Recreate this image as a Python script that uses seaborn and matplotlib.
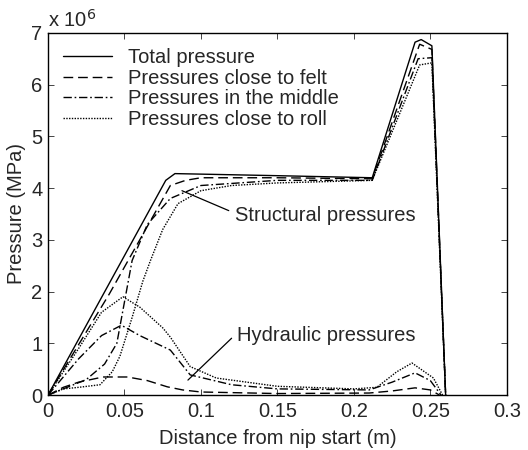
import matplotlib
matplotlib.use("Agg")
import matplotlib.pyplot as plt
import seaborn as sns
import numpy as np

# ---- data (values in units of 1e6 Pa) ----
x_total = [0, 0.077, 0.083, 0.1, 0.15, 0.212, 0.24, 0.244, 0.251, 0.26]
y_total = [0, 4.15, 4.28, 4.27, 4.24, 4.2, 6.82, 6.87, 6.75, 0]

x_felt_s = [0, 0.04, 0.08, 0.09, 0.1, 0.15, 0.212, 0.243, 0.251, 0.26]
y_felt_s = [0, 1.95, 4.05, 4.15, 4.2, 4.2, 4.18, 6.78, 6.68, 0]

x_mid_s = [0, 0.01, 0.025, 0.037, 0.045, 0.05, 0.055, 0.065, 0.08, 0.1, 0.15, 0.212, 0.242, 0.251, 0.26]
y_mid_s = [0, 0.12, 0.3, 0.6, 1.0, 1.8, 2.6, 3.3, 3.8, 4.05, 4.15, 4.15, 6.5, 6.52, 0]

x_roll_s = [0, 0.01, 0.02, 0.034, 0.042, 0.047, 0.055, 0.062, 0.067, 0.075, 0.085, 0.1, 0.12, 0.15, 0.212, 0.243, 0.251, 0.26]
y_roll_s = [0, 0.12, 0.15, 0.2, 0.45, 0.75, 1.5, 2.2, 2.6, 3.2, 3.7, 3.95, 4.05, 4.1, 4.15, 6.38, 6.42, 0]

x_felt_h = [0, 0.01, 0.02, 0.036, 0.052, 0.065, 0.078, 0.088, 0.1, 0.15, 0.21, 0.225, 0.24, 0.25, 0.256]
y_felt_h = [0, 0.15, 0.25, 0.35, 0.35, 0.28, 0.16, 0.1, 0.06, 0.03, 0.04, 0.08, 0.14, 0.1, 0]

x_mid_h = [0, 0.02, 0.035, 0.048, 0.06, 0.08, 0.093, 0.12, 0.15, 0.21, 0.225, 0.24, 0.25, 0.257]
y_mid_h = [0, 0.7, 1.15, 1.35, 1.15, 0.87, 0.39, 0.2, 0.12, 0.1, 0.25, 0.43, 0.28, 0]

x_roll_h = [0, 0.02, 0.035, 0.049, 0.06, 0.075, 0.08, 0.093, 0.11, 0.15, 0.2, 0.215, 0.228, 0.238, 0.252, 0.258]
y_roll_h = [0, 0.9, 1.6, 1.9, 1.7, 1.3, 1.12, 0.55, 0.33, 0.17, 0.12, 0.15, 0.45, 0.62, 0.33, 0]

legend_labels = ["Total pressure", "Pressures close to felt",
                 "Pressures in the middle", "Pressures close to roll"]
x_ticks = [0, 0.05, 0.1, 0.15, 0.2, 0.25, 0.3]
x_tick_labels = ["0", "0.05", "0.1", "0.15", "0.2", "0.25", "0.3"]
y_ticks = [0, 1, 2, 3, 4, 5, 6, 7]

sns.set_style("ticks")
plt.rcParams['font.family'] = ['Liberation Sans', 'DejaVu Sans']

FS = 14.5
fig = plt.figure(figsize=(5.28, 4.5), dpi=100)
ax = fig.add_axes([0.0909, 0.122, 0.869, 0.805])

lw = 1.0
felt_dash = (0, (7, 3.5))
mid_dash = (0, (6, 2, 1.2, 2))
roll_dash = (0, (1, 1))

def draw(x, y, ls, label=None):
    sns.lineplot(x=x, y=y, ax=ax, color="black", linewidth=lw, sort=False,
                 estimator=None, label=label, legend=False)
    ax.lines[-1].set_linestyle(ls)

draw(x_total, y_total, "-")
draw(x_felt_s, y_felt_s, felt_dash)
draw(x_mid_s, y_mid_s, mid_dash)
draw(x_roll_s, y_roll_s, roll_dash)
draw(x_felt_h, y_felt_h, felt_dash)
draw(x_mid_h, y_mid_h, mid_dash)
draw(x_roll_h, y_roll_h, roll_dash)

handles = ax.lines[:4]
leg = ax.legend(handles, legend_labels, loc="upper left", frameon=False,
                fontsize=FS, handlelength=2.45, handletextpad=0.75,
                labelspacing=0.08, borderaxespad=0.0, borderpad=0.0,
                bbox_to_anchor=(0.033, 0.958))

ax.set_xlim(0, 0.3)
ax.set_ylim(0, 7)
ax.set_xticks(x_ticks)
ax.set_xticklabels(x_tick_labels)
ax.set_yticks(y_ticks)
ax.tick_params(direction="in", top=True, right=True, labelsize=FS,
               length=4, width=0.6)
ax.tick_params(axis="x", pad=5)
ax.tick_params(axis="y", pad=4)
for s in ax.spines.values():
    s.set_linewidth(1.0)
    s.set_color("black")
ax.set_xlabel("Distance from nip start (m)", fontsize=FS, labelpad=6)
ax.set_ylabel("Pressure (MPa)", fontsize=FS, labelpad=4)
ax.text(0.0, 1.005, r"x 10$^6$", transform=ax.transAxes, fontsize=FS,
        ha="left", va="bottom")

ax.annotate("Structural pressures", xy=(0.0876, 3.95), xytext=(0.122, 3.48),
            fontsize=FS, va="center", ha="left",
            arrowprops=dict(arrowstyle="-", color="black", lw=0.9,
                            shrinkA=2, shrinkB=0, relpos=(0, 0.6)))
ax.annotate("Hydraulic pressures", xy=(0.0915, 0.29), xytext=(0.1235, 1.16),
            fontsize=FS, va="center", ha="left",
            arrowprops=dict(arrowstyle="-", color="black", lw=0.9,
                            shrinkA=2, shrinkB=0, relpos=(0, 0.6)))

fig.savefig("out.png", dpi=100)
